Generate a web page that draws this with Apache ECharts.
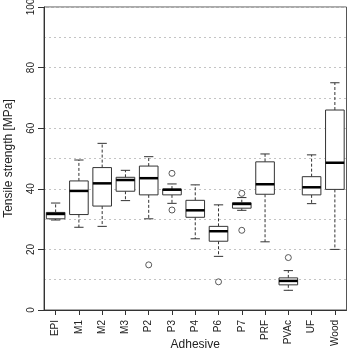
<!DOCTYPE html>
<html><head><meta charset="utf-8">
<script src="https://cdn.jsdelivr.net/npm/echarts@6/dist/echarts.min.js"></script>
<style>html,body{margin:0;padding:0;background:#fff}#c{width:349px;height:353px}</style>
</head><body><div id="c"></div>
<script>
const categories = ['EPI','M1','M2','M3','P2','P3','P4','P6','P7','PRF','PVAc','UF','Wood'];
const whiskerLow  = [29.7, 27.3, 27.6, 36.1, 30.1, 35.2, 23.5, 17.7, 32.9, 22.5, 6.5, 35.1, 20.0];
const q1          = [30.1, 31.5, 34.3, 39.2, 38.0, 38.0, 30.6, 22.7, 33.6, 38.2, 8.3, 38.0, 39.8];
const median      = [31.7, 39.3, 41.8, 42.9, 43.5, 39.7, 32.9, 26.0, 35.0, 41.5, 9.6, 40.5, 48.6];
const q3          = [32.2, 42.6, 47.0, 43.8, 47.5, 39.9, 36.2, 27.6, 35.4, 48.9, 10.6, 44.0, 66.0];
const whiskerHigh = [35.3, 49.5, 55.0, 46.1, 50.6, 41.6, 41.3, 34.7, 37.1, 51.5, 13.0, 51.2, 75.0];
const outlierCats = ['P2','P3','P3','P6','P7','P7','PVAc'];
const outlierVals = [14.9, 45.1, 33.0, 9.3, 38.5, 26.3, 17.3];
const yTicks = [0, 20, 40, 60, 80, 100];

const boxData = categories.map((c, i) => [i, whiskerLow[i], q1[i], median[i], q3[i], whiskerHigh[i]]);
const outData = outlierCats.map((c, i) => [categories.indexOf(c), outlierVals[i]]);

const chart = echarts.init(document.getElementById('c'), null, {renderer: 'canvas'});
const lineCol = '#333';
function renderBox(params, api) {
  const i = api.value(0);
  const band = api.size([1, 0])[0];
  const bw = band * 0.8;
  const cw = bw * 0.5;
  const pLow = api.coord([i, api.value(1)]);
  const pQ1 = api.coord([i, api.value(2)]);
  const pMed = api.coord([i, api.value(3)]);
  const pQ3 = api.coord([i, api.value(4)]);
  const pHigh = api.coord([i, api.value(5)]);
  const x = pMed[0];
  const thin = {stroke: lineCol, lineWidth: 1, fill: null};
  const dash = {stroke: lineCol, lineWidth: 1, lineDash: [3, 2]};
  return {
    type: 'group',
    children: [
      {type: 'line', shape: {x1: x, y1: pQ3[1], x2: x, y2: pHigh[1]}, style: dash},
      {type: 'line', shape: {x1: x, y1: pQ1[1], x2: x, y2: pLow[1]}, style: dash},
      {type: 'line', shape: {x1: x - cw / 2, y1: pHigh[1], x2: x + cw / 2, y2: pHigh[1]}, style: thin},
      {type: 'line', shape: {x1: x - cw / 2, y1: pLow[1], x2: x + cw / 2, y2: pLow[1]}, style: thin},
      {type: 'rect', shape: {x: x - bw / 2, y: pQ3[1], width: bw, height: pQ1[1] - pQ3[1]}, style: {stroke: lineCol, lineWidth: 1, fill: '#fff'}},
      {type: 'line', shape: {x1: x - bw / 2, y1: pMed[1], x2: x + bw / 2, y2: pMed[1]}, style: {stroke: '#000', lineWidth: 2.5}}
    ]
  };
}

chart.setOption({
  animation: false,
  textStyle: {fontFamily: 'Liberation Sans, Arial, sans-serif'},
  grid: {left: 44, right: 2.5, top: 7, bottom: 43, containLabel: false, outerBoundsMode: 'none',
    show: true, borderColor: '#555', borderWidth: 1, backgroundColor: 'transparent'},
  xAxis: {
    type: 'category', data: categories, boundaryGap: true,
    name: 'Adhesive', nameLocation: 'middle', nameGap: 29, nameMoveOverlap: false,
    nameTextStyle: {fontSize: 12, color: '#222'},
    axisLine: {show: true, lineStyle: {color: '#333'}},
    axisTick: {show: true, alignWithLabel: true, length: 5, lineStyle: {color: '#333'}},
    axisLabel: {rotate: 90, fontSize: 10, color: '#222', margin: 10, interval: 0},
    splitLine: {show: false}
  },
  yAxis: {
    type: 'value', min: 0, max: 100, interval: 20,
    name: 'Tensile strength [MPa]', nameLocation: 'middle', nameGap: 29, nameMoveOverlap: false,
    nameTextStyle: {fontSize: 12, color: '#222'},
    axisLine: {show: true, lineStyle: {color: '#333'}},
    axisTick: {show: true, length: 6, lineStyle: {color: '#333'}},
    axisLabel: {rotate: 90, fontSize: 10, color: '#222', margin: 8,
      formatter: v => (yTicks.indexOf(v) >= 0 ? String(v) : '')},
    splitLine: {show: true, lineStyle: {color: '#c4c4c4', type: [2, 3], width: 1}},
    minorTick: {show: false, splitNumber: 2},
    minorSplitLine: {show: true, lineStyle: {color: '#c4c4c4', type: [2, 3], width: 1}}
  },
  series: [
    {type: 'custom', renderItem: renderBox, data: boxData, encode: {x: 0, y: [1, 2, 3, 4, 5]}, z: 3},
    {type: 'scatter', data: outData, symbol: 'circle', symbolSize: 6,
      itemStyle: {color: 'rgba(0,0,0,0)', borderColor: '#333', borderWidth: 1}, z: 4}
  ]
});
</script></body></html>
